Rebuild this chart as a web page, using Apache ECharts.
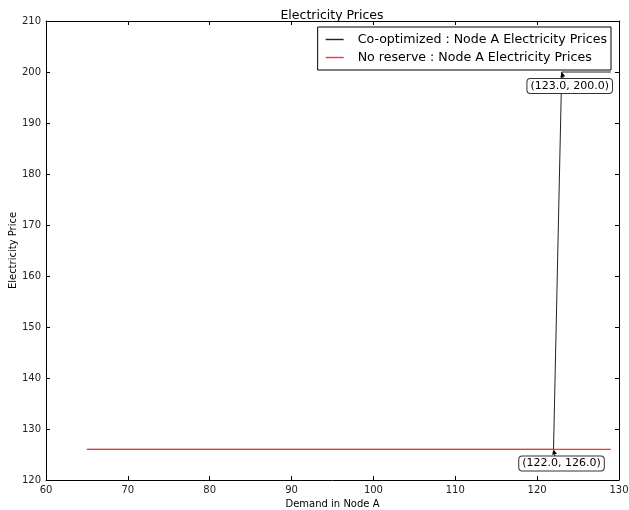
<!DOCTYPE html>
<html><head><meta charset="utf-8">
<script src="https://cdn.jsdelivr.net/npm/echarts@6/dist/echarts.min.js"></script>
<style>html,body{margin:0;padding:0;background:#fff}#chart{width:629px;height:510px}</style>
</head><body><div id="chart"></div>
<script>
// Co-optimized price curve for node A (breakpoints of the step)
const demandCoOpt = [65, 122, 123, 129];
const priceCoOpt = [126, 126, 200, 200];
// Price without reserve co-optimization
const demandNoReserve = [65, 129];
const priceNoReserve = [126, 126];
// Points called out with a value label
const calloutX = [123, 122];
const calloutY = [200, 126];

const FONT = 'DejaVu Sans';
const RED = '#ff3030';
const chart = echarts.init(document.getElementById('chart'), null, { renderer: 'canvas' });

function axisCommon(extra) {
  return Object.assign({
    type: 'value',
    axisLine: { show: true, onZero: false, lineStyle: { color: '#000', width: 1 } },
    axisTick: { show: true, inside: true, length: 4, lineStyle: { color: '#000' } },
    splitLine: { show: false },
    axisLabel: { color: '#222', fontFamily: FONT, fontSize: 10 }
  }, extra);
}

chart.setOption({
  animation: false,
  backgroundColor: '#fff',
  title: {
    text: 'Electricity Prices', left: 327, top: 4, textAlign: 'center',
    textStyle: { fontFamily: FONT, fontSize: 12.5, fontWeight: 'normal', color: '#000' }
  },
  grid: { left: 46, right: 10, top: 21, bottom: 30, outerBoundsMode: 'none', containLabel: false },
  legend: {
    orient: 'vertical', right: 18, top: 27, icon: 'rect', itemWidth: 18, itemHeight: 1.4,
    itemGap: 5, padding: [6, 4, 6, 8], borderColor: '#000', borderWidth: 1,
    backgroundColor: '#fff',
    textStyle: { fontFamily: FONT, fontSize: 12.6, color: '#000', padding: [0, 0, 0, 9] },
    data: ['Co-optimized : Node A Electricity Prices', 'No reserve : Node A Electricity Prices']
  },
  xAxis: [
    axisCommon({ min: 60, max: 130, interval: 10, position: 'bottom',
      name: 'Demand in Node A', nameLocation: 'middle', nameGap: 19, nameMoveOverlap: false,
      nameTextStyle: { fontFamily: FONT, fontSize: 10, color: '#000' },
      axisLabel: { color: '#222', fontFamily: FONT, fontSize: 10, margin: 5 } }),
    axisCommon({ min: 60, max: 130, interval: 10, position: 'top', axisLabel: { show: false } })
  ],
  yAxis: [
    axisCommon({ min: 120, max: 210, interval: 10, position: 'left',
      name: 'Electricity Price', nameLocation: 'middle', nameGap: 28, nameMoveOverlap: false,
      nameTextStyle: { fontFamily: FONT, fontSize: 10, color: '#000' },
      axisLabel: { color: '#222', fontFamily: FONT, fontSize: 10, margin: 5 } }),
    axisCommon({ min: 120, max: 210, interval: 10, position: 'right', axisLabel: { show: false } })
  ],
  series: [
    {
      name: 'Co-optimized : Node A Electricity Prices', type: 'line', showSymbol: false,
      data: demandCoOpt.map((d, i) => [d, priceCoOpt[i]]),
      color: '#222', lineStyle: { color: '#222', width: 1 }, z: 2
    },
    {
      name: 'No reserve : Node A Electricity Prices', type: 'line', showSymbol: false,
      data: demandNoReserve.map((d, i) => [d, priceNoReserve[i]]),
      color: RED, lineStyle: { color: RED, width: 1.3 }, z: 3
    }
  ]
});

// Value callouts: rounded label box below-right of the point, with a small arrow
function drawCallouts() {
  const elements = [];
  calloutX.forEach((x, i) => {
    const y = calloutY[i];
    const p = chart.convertToPixel({ gridIndex: 0 }, [x, y]);
    const cx = p[0] + 8, cy = p[1] + 14;
    const tail = [p[0] + 1.5, cy - 7];
    const dx = p[0] - tail[0], dy = p[1] - tail[1];
    const len = Math.hypot(dx, dy), ux = dx / len, uy = dy / len;
    const hb = [p[0] - ux * 5, p[1] - uy * 5];
    elements.push({
      type: 'line', z: 10,
      shape: { x1: tail[0], y1: tail[1], x2: hb[0], y2: hb[1] },
      style: { stroke: '#000', lineWidth: 1 }
    });
    elements.push({
      type: 'polygon', z: 10,
      shape: { points: [[p[0], p[1]], [hb[0] - uy * 2.5, hb[1] + ux * 2.5], [hb[0] + uy * 2.5, hb[1] - ux * 2.5]] },
      style: { fill: '#000' }
    });
    elements.push({
      type: 'text', z: 11, x: cx, y: cy,
      style: {
        text: '(' + x.toFixed(1) + ', ' + y.toFixed(1) + ')',
        fontFamily: FONT, fontSize: 11, fill: '#000', align: 'center', verticalAlign: 'middle',
        backgroundColor: '#fff', borderColor: '#333', borderWidth: 1, borderRadius: 3,
        padding: [2, 3, 1, 3]
      }
    });
  });
  chart.setOption({ graphic: { elements: elements } });
}
drawCallouts();
</script>
</body></html>
